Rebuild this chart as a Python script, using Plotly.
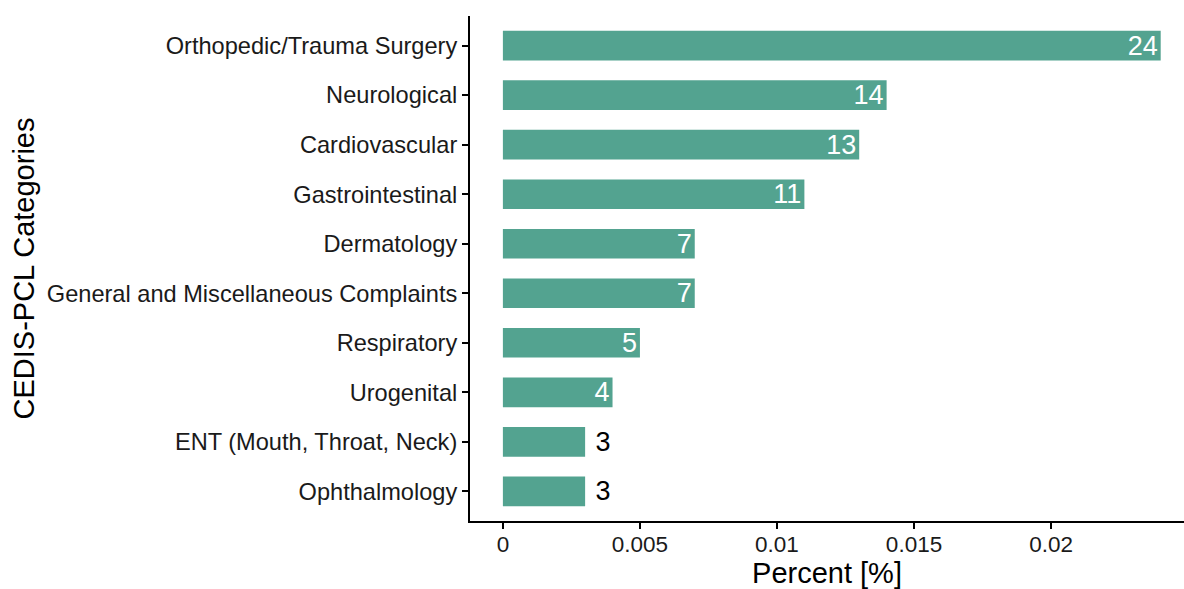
import plotly.graph_objects as go

categories = [
    "Orthopedic/Trauma Surgery",
    "Neurological",
    "Cardiovascular",
    "Gastrointestinal",
    "Dermatology",
    "General and Miscellaneous Complaints",
    "Respiratory",
    "Urogenital",
    "ENT (Mouth, Throat, Neck)",
    "Ophthalmology",
]
percent = [0.024, 0.014, 0.013, 0.011, 0.007, 0.007, 0.005, 0.004, 0.003, 0.003]
labels = ["24", "14", "13", "11", "7", "7", "5", "4", "3", "3"]
text_pos = ["inside"] * 8 + ["outside"] * 2
text_tmpl = ["%{text}"] * 8 + ["\u00a0%{text}"] * 2

bar_color = "#53A390"
font_family = "Liberation Sans, Arial, sans-serif"

fig = go.Figure(
    go.Bar(
        x=percent,
        y=categories,
        orientation="h",
        marker=dict(color=bar_color, line=dict(width=0)),
        width=0.6,
        text=labels,
        texttemplate=text_tmpl,
        textposition=text_pos,
        textangle=0,
        insidetextanchor="end",
        insidetextfont=dict(color="white", size=27, family=font_family),
        outsidetextfont=dict(color="black", size=27, family=font_family),
        cliponaxis=False,
        constraintext="none",
        hoverinfo="skip",
    )
)

fig.update_layout(
    width=1184,
    height=589,
    margin=dict(l=470, r=0, t=16, b=68),
    plot_bgcolor="white",
    paper_bgcolor="white",
    showlegend=False,
    font=dict(family=font_family, color="black"),
    xaxis=dict(
        range=[-0.0012, 0.02485],
        tickvals=[0, 0.005, 0.01, 0.015, 0.02],
        ticktext=["0", "0.005", "0.01", "0.015", "0.02"],
        showgrid=False,
        zeroline=False,
        showline=True,
        linecolor="black",
        linewidth=2,
        ticks="outside",
        ticklen=6,
        tickwidth=1.5,
        tickcolor="black",
        ticklabelstandoff=-4,
        tickfont=dict(size=22.5, color="#1a1a1a"),
        title=dict(text="Percent [%]", font=dict(size=29), standoff=8),
    ),
    yaxis=dict(
        categoryorder="array",
        categoryarray=categories[::-1],
        range=[-0.6, 9.6],
        showgrid=False,
        zeroline=False,
        showline=True,
        linecolor="black",
        linewidth=2,
        ticks="outside",
        ticklen=6,
        tickwidth=1.5,
        tickcolor="black",
        tickfont=dict(size=23.6, color="#1a1a1a"),
        title=dict(text="CEDIS-PCL Categories", font=dict(size=29), standoff=4),
    ),
)

fig.write_html(
    "out.html",
    config={"displayModeBar": False},
    post_script="document.body.style.margin='0';",
)
